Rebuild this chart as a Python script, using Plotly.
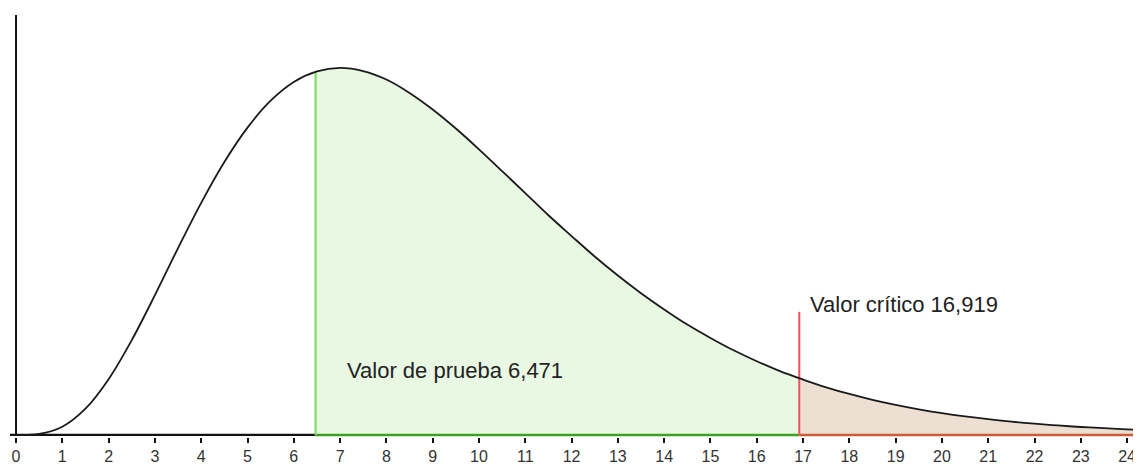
import plotly.graph_objects as go

# Density curve values (x every 0.5)
curve_x = [0, 0.5, 1, 1.5, 2, 2.5, 3, 3.5, 4, 4.5, 5, 5.5, 6, 6.5, 7, 7.5, 8, 8.5,
           9, 9.5, 10, 10.5, 11, 11.5, 12, 12.5, 13, 13.5, 14, 14.5, 15, 15.5, 16,
           16.5, 17, 17.5, 18, 18.5, 19, 19.5, 20, 20.5, 21, 21.5, 22, 22.5, 23,
           23.5, 24, 24.5]
curve_y = [0.0, 0.00026, 0.00230, 0.00742, 0.01581, 0.02688, 0.03963, 0.05298,
           0.06582, 0.07740, 0.08716, 0.09479, 0.1001, 0.1031, 0.1041, 0.1032,
           0.1008, 0.0970, 0.0923, 0.0869, 0.0810, 0.0748, 0.0686, 0.0623, 0.0564,
           0.0506, 0.0452, 0.0402, 0.0356, 0.0313, 0.0275, 0.0240, 0.0209, 0.0181,
           0.0157, 0.0135, 0.0116, 0.00994, 0.00851, 0.00725, 0.00617, 0.00524,
           0.00444, 0.00375, 0.00317, 0.00267, 0.00224, 0.00189, 0.00158, 0.00132]

test_value = 6.471
test_density = 0.1030
critical_value = 16.919
critical_density = 0.0161
critical_line_top = 0.0349

tick_values = list(range(0, 25))
tick_labels = [str(v) for v in tick_values]

label_test = "Valor de prueba 6,471"
label_critical = "Valor crítico 16,919"

x_min, x_max = -0.13, 24.3
y_min, y_max = -0.0006, 0.1191

# build fill regions from the curve data
green_x = [test_value] + [x for x in curve_x if test_value < x < critical_value] + [critical_value]
green_y = [test_density] + [y for x, y in zip(curve_x, curve_y) if test_value < x < critical_value] + [critical_density]
brown_x = [critical_value] + [x for x in curve_x if x > critical_value]
brown_y = [critical_density] + [y for x, y in zip(curve_x, curve_y) if x > critical_value]

fig = go.Figure()

fig.add_trace(go.Scatter(x=green_x, y=green_y, fill="tozeroy", mode="lines",
                         line=dict(width=0, color="rgba(0,0,0,0)"),
                         fillcolor="#e8f8e3", hoverinfo="skip"))
fig.add_trace(go.Scatter(x=brown_x, y=brown_y, fill="tozeroy", mode="lines",
                         line=dict(width=0, color="rgba(0,0,0,0)"),
                         fillcolor="#ede0d3", hoverinfo="skip"))

# baseline pieces
fig.add_trace(go.Scatter(x=[x_min, test_value], y=[0, 0], mode="lines",
                         line=dict(color="#111111", width=2.2), hoverinfo="skip"))
fig.add_trace(go.Scatter(x=[test_value, critical_value], y=[0, 0], mode="lines",
                         line=dict(color="#3f9f22", width=2.5), hoverinfo="skip"))
fig.add_trace(go.Scatter(x=[critical_value, x_max + 0.5], y=[0, 0], mode="lines",
                         line=dict(color="#cc5a3c", width=2.5), hoverinfo="skip"))

# vertical lines
fig.add_trace(go.Scatter(x=[test_value, test_value], y=[0, test_density], mode="lines",
                         line=dict(color="#7ddc66", width=2.2), hoverinfo="skip"))
fig.add_trace(go.Scatter(x=[critical_value, critical_value], y=[0, critical_line_top], mode="lines",
                         line=dict(color="#f0505f", width=2), hoverinfo="skip"))

# y axis line
fig.add_trace(go.Scatter(x=[0, 0], y=[0, y_max], mode="lines",
                         line=dict(color="#111111", width=2), hoverinfo="skip"))

# density curve
fig.add_trace(go.Scatter(x=curve_x, y=curve_y, mode="lines",
                         line=dict(color="#1a1a1a", width=1.8, shape="spline"),
                         hoverinfo="skip"))

fig.add_annotation(x=7.106, y=0.0184, text=label_test, showarrow=False,
                   xanchor="left", yanchor="middle",
                   font=dict(family="Liberation Sans, Arial", size=22, color="#222222"))
fig.add_annotation(x=17.1, y=0.0369, text=label_critical, showarrow=False,
                   xanchor="left", yanchor="middle",
                   font=dict(family="Liberation Sans, Arial", size=22, color="#222222"))

fig.update_layout(
    width=1133, height=456,
    margin=dict(l=2, r=0, t=7, b=27),
    paper_bgcolor="white", plot_bgcolor="white",
    showlegend=False,
    xaxis=dict(range=[x_min, x_max], showgrid=False, zeroline=False, showline=False,
               tickmode="array", tickvals=tick_values, ticktext=tick_labels,
               ticks="outside", ticklen=5, tickwidth=2, tickcolor="#111111",
               tickfont=dict(family="Liberation Sans, Arial", size=16, color="#333333")),
    yaxis=dict(range=[y_min, y_max], showgrid=False, zeroline=False, showline=False,
               showticklabels=False, ticks=""),
)

fig.write_html("out.html")
